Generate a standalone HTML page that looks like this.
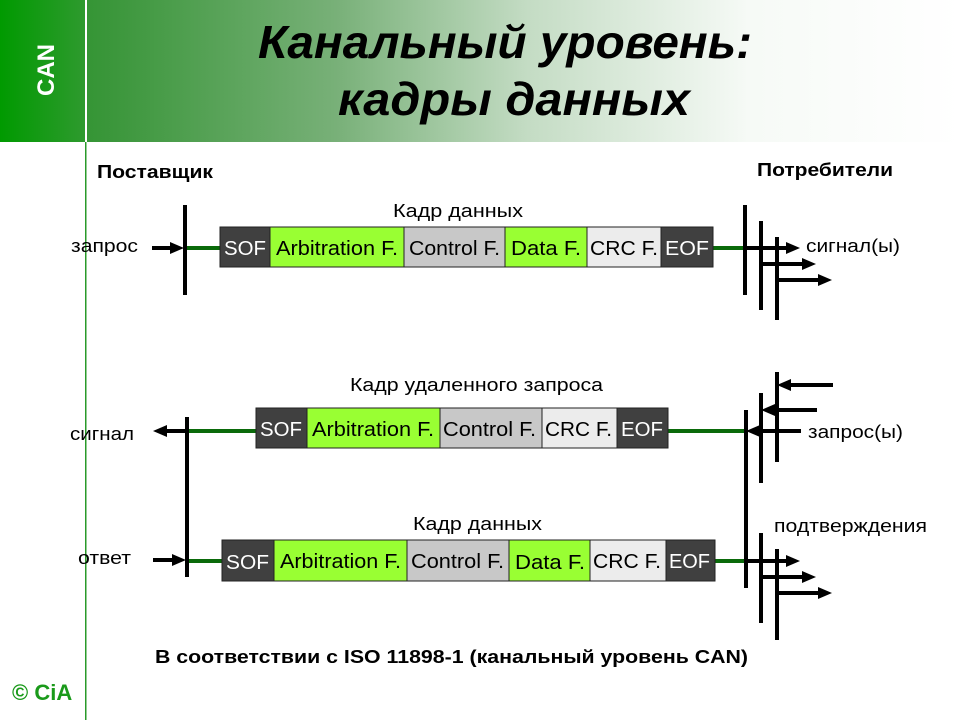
<!DOCTYPE html>
<html><head><meta charset="utf-8"><style>
html,body{margin:0;padding:0;background:#fff;}
svg{display:block;font-family:"Liberation Sans","DejaVu Sans",sans-serif;}
</style></head><body>
<svg width="960" height="720" viewBox="0 0 960 720" xmlns="http://www.w3.org/2000/svg">
<defs>
<linearGradient id="hg" x1="0" x2="1" y1="0" y2="0">
<stop offset="0" stop-color="#1f8f1f"/>
<stop offset="0.12" stop-color="#3c973c"/>
<stop offset="0.35" stop-color="#78b078"/>
<stop offset="0.55" stop-color="#c4dcc4"/>
<stop offset="0.78" stop-color="#f6faf6"/>
<stop offset="1" stop-color="#ffffff"/>
</linearGradient>
<linearGradient id="sg" x1="0" x2="1">
<stop offset="0" stop-color="#009a00"/><stop offset="1" stop-color="#2e9a2e"/>
</linearGradient>
</defs>
<rect x="0" y="0" width="960" height="142" fill="url(#hg)"/>
<rect x="0" y="0" width="85" height="142" fill="url(#sg)"/>
<rect x="85" y="0" width="2" height="142" fill="#fff"/>
<rect x="85" y="142" width="1.5" height="578" fill="#2a9a2a"/>
<text transform="translate(54,70) rotate(-90)" text-anchor="middle" font-size="24" font-weight="bold" fill="#fff">CAN</text>
<g font-weight="bold" font-style="italic" font-size="46" fill="#000">
<text x="258" y="58" textLength="494" lengthAdjust="spacingAndGlyphs">Канальный уровень:</text>
<text x="338" y="115" textLength="352" lengthAdjust="spacingAndGlyphs">кадры данных</text>
</g>
<g font-size="18" font-weight="bold">
<text x="97" y="178" textLength="116" lengthAdjust="spacingAndGlyphs">Поставщик</text>
<text x="757" y="176" textLength="136" lengthAdjust="spacingAndGlyphs">Потребители</text>
<text x="155" y="663" textLength="593" lengthAdjust="spacingAndGlyphs">В соответствии с ISO 11898-1 (канальный уровень CAN)</text>
</g>
<text x="12" y="700" font-size="22" font-weight="bold" fill="#1a9a1a">© CiA</text>

<g font-size="18" fill="#000" lengthAdjust="spacingAndGlyphs">
<text x="71" y="252" textLength="67" lengthAdjust="spacingAndGlyphs">запрос</text>
<text x="70" y="440" textLength="64" lengthAdjust="spacingAndGlyphs">сигнал</text>
<text x="78" y="564" textLength="53" lengthAdjust="spacingAndGlyphs">ответ</text>
<text x="806" y="252" textLength="94" lengthAdjust="spacingAndGlyphs">сигнал(ы)</text>
<text x="808" y="438" textLength="95" lengthAdjust="spacingAndGlyphs">запрос(ы)</text>
<text x="774" y="532" textLength="153" lengthAdjust="spacingAndGlyphs">подтверждения</text>
<text x="393" y="217" textLength="130" lengthAdjust="spacingAndGlyphs">Кадр данных</text>
<text x="350" y="391" textLength="253" lengthAdjust="spacingAndGlyphs">Кадр удаленного запроса</text>
<text x="413" y="530" textLength="129" lengthAdjust="spacingAndGlyphs">Кадр данных</text>
</g>

<g stroke="#0a6a0a" stroke-width="4">
<line x1="185" y1="248" x2="220" y2="248"/><line x1="713" y1="248" x2="746" y2="248"/>
<line x1="187" y1="431" x2="257" y2="431"/><line x1="668" y1="431" x2="746" y2="431"/>
<line x1="187" y1="561" x2="222" y2="561"/><line x1="715" y1="561" x2="746" y2="561"/>
</g>

<g stroke="#222" stroke-width="1">
<rect x="220" y="227" width="50" height="40" fill="#404040"/>
<rect x="270" y="227" width="134" height="40" fill="#99ff33"/>
<rect x="404" y="227" width="101" height="40" fill="#c8c8c8"/>
<rect x="505" y="227" width="82" height="40" fill="#99ff33"/>
<rect x="587" y="227" width="74" height="40" fill="#ececec"/>
<rect x="661" y="227" width="52" height="40" fill="#404040"/>

<rect x="256" y="408" width="51" height="40" fill="#404040"/>
<rect x="307" y="408" width="133" height="40" fill="#99ff33"/>
<rect x="440" y="408" width="102" height="40" fill="#c8c8c8"/>
<rect x="542" y="408" width="75" height="40" fill="#ececec"/>
<rect x="617" y="408" width="51" height="40" fill="#404040"/>

<rect x="222" y="540" width="52" height="41" fill="#404040"/>
<rect x="274" y="540" width="133" height="41" fill="#99ff33"/>
<rect x="407" y="540" width="102" height="41" fill="#c8c8c8"/>
<rect x="509" y="540" width="81" height="41" fill="#99ff33"/>
<rect x="590" y="540" width="76" height="41" fill="#ececec"/>
<rect x="666" y="540" width="49" height="41" fill="#404040"/>
</g>
<g font-size="20">
<g fill="#fff">
<text x="224" y="255" textLength="42" lengthAdjust="spacingAndGlyphs">SOF</text>
<text x="665" y="255" textLength="44" lengthAdjust="spacingAndGlyphs">EOF</text>
<text x="260" y="436" textLength="42" lengthAdjust="spacingAndGlyphs">SOF</text>
<text x="621" y="436" textLength="42" lengthAdjust="spacingAndGlyphs">EOF</text>
<text x="226" y="569" textLength="43" lengthAdjust="spacingAndGlyphs">SOF</text>
<text x="669" y="568" textLength="41" lengthAdjust="spacingAndGlyphs">EOF</text>
</g>
<text x="276" y="255" textLength="122" lengthAdjust="spacingAndGlyphs">Arbitration F.</text>
<text x="409" y="255" textLength="91" lengthAdjust="spacingAndGlyphs">Control F.</text>
<text x="511" y="255" textLength="70" lengthAdjust="spacingAndGlyphs">Data F.</text>
<text x="590" y="255" textLength="68" lengthAdjust="spacingAndGlyphs">CRC F.</text>
<text x="312" y="436" textLength="122" lengthAdjust="spacingAndGlyphs">Arbitration F.</text>
<text x="443" y="436" textLength="93" lengthAdjust="spacingAndGlyphs">Control F.</text>
<text x="545" y="436" textLength="67" lengthAdjust="spacingAndGlyphs">CRC F.</text>
<text x="280" y="568" textLength="121" lengthAdjust="spacingAndGlyphs">Arbitration F.</text>
<text x="411" y="568" textLength="93" lengthAdjust="spacingAndGlyphs">Control F.</text>
<text x="515" y="569" textLength="70" lengthAdjust="spacingAndGlyphs">Data F.</text>
<text x="593" y="568" textLength="68" lengthAdjust="spacingAndGlyphs">CRC F.</text>
</g>

<g stroke="#000" stroke-width="4">
<line x1="185" y1="205" x2="185" y2="295"/>
<line x1="187" y1="417" x2="187" y2="577"/>
<line x1="745" y1="205" x2="745" y2="295"/>
<line x1="761" y1="221" x2="761" y2="310"/>
<line x1="777" y1="237" x2="777" y2="320"/>
<line x1="746" y1="410" x2="746" y2="588"/>
<line x1="761" y1="393" x2="761" y2="483"/>
<line x1="777" y1="372" x2="777" y2="462"/>
<line x1="761" y1="533" x2="761" y2="623"/>
<line x1="777" y1="549" x2="777" y2="640"/>
<line x1="152" y1="248" x2="172" y2="248"/>
<line x1="167" y1="431" x2="187" y2="431"/>
<line x1="153" y1="560" x2="174" y2="560"/>
<line x1="745" y1="248" x2="788" y2="248"/>
<line x1="761" y1="264" x2="804" y2="264"/>
<line x1="777" y1="280" x2="820" y2="280"/>
<line x1="789" y1="385" x2="833" y2="385"/>
<line x1="773" y1="410" x2="817" y2="410"/>
<line x1="758" y1="431" x2="801" y2="431"/>
<line x1="746" y1="561" x2="788" y2="561"/>
<line x1="761" y1="577" x2="804" y2="577"/>
<line x1="777" y1="593" x2="820" y2="593"/>
</g>
<g fill="#000">
<polygon points="170,242 184,248 170,254"/>
<polygon points="167,425 153,431 167,437"/>
<polygon points="172,554 186,560 172,566"/>
<polygon points="786,242 800,248 786,254"/>
<polygon points="802,258 816,264 802,270"/>
<polygon points="818,274 832,280 818,286"/>
<polygon points="791,379 777,385 791,391"/>
<polygon points="775,404 761,410 775,416"/>
<polygon points="760,425 746,431 760,437"/>
<polygon points="786,555 800,561 786,567"/>
<polygon points="802,571 816,577 802,583"/>
<polygon points="818,587 832,593 818,599"/>
</g>
</svg>
</body></html>
